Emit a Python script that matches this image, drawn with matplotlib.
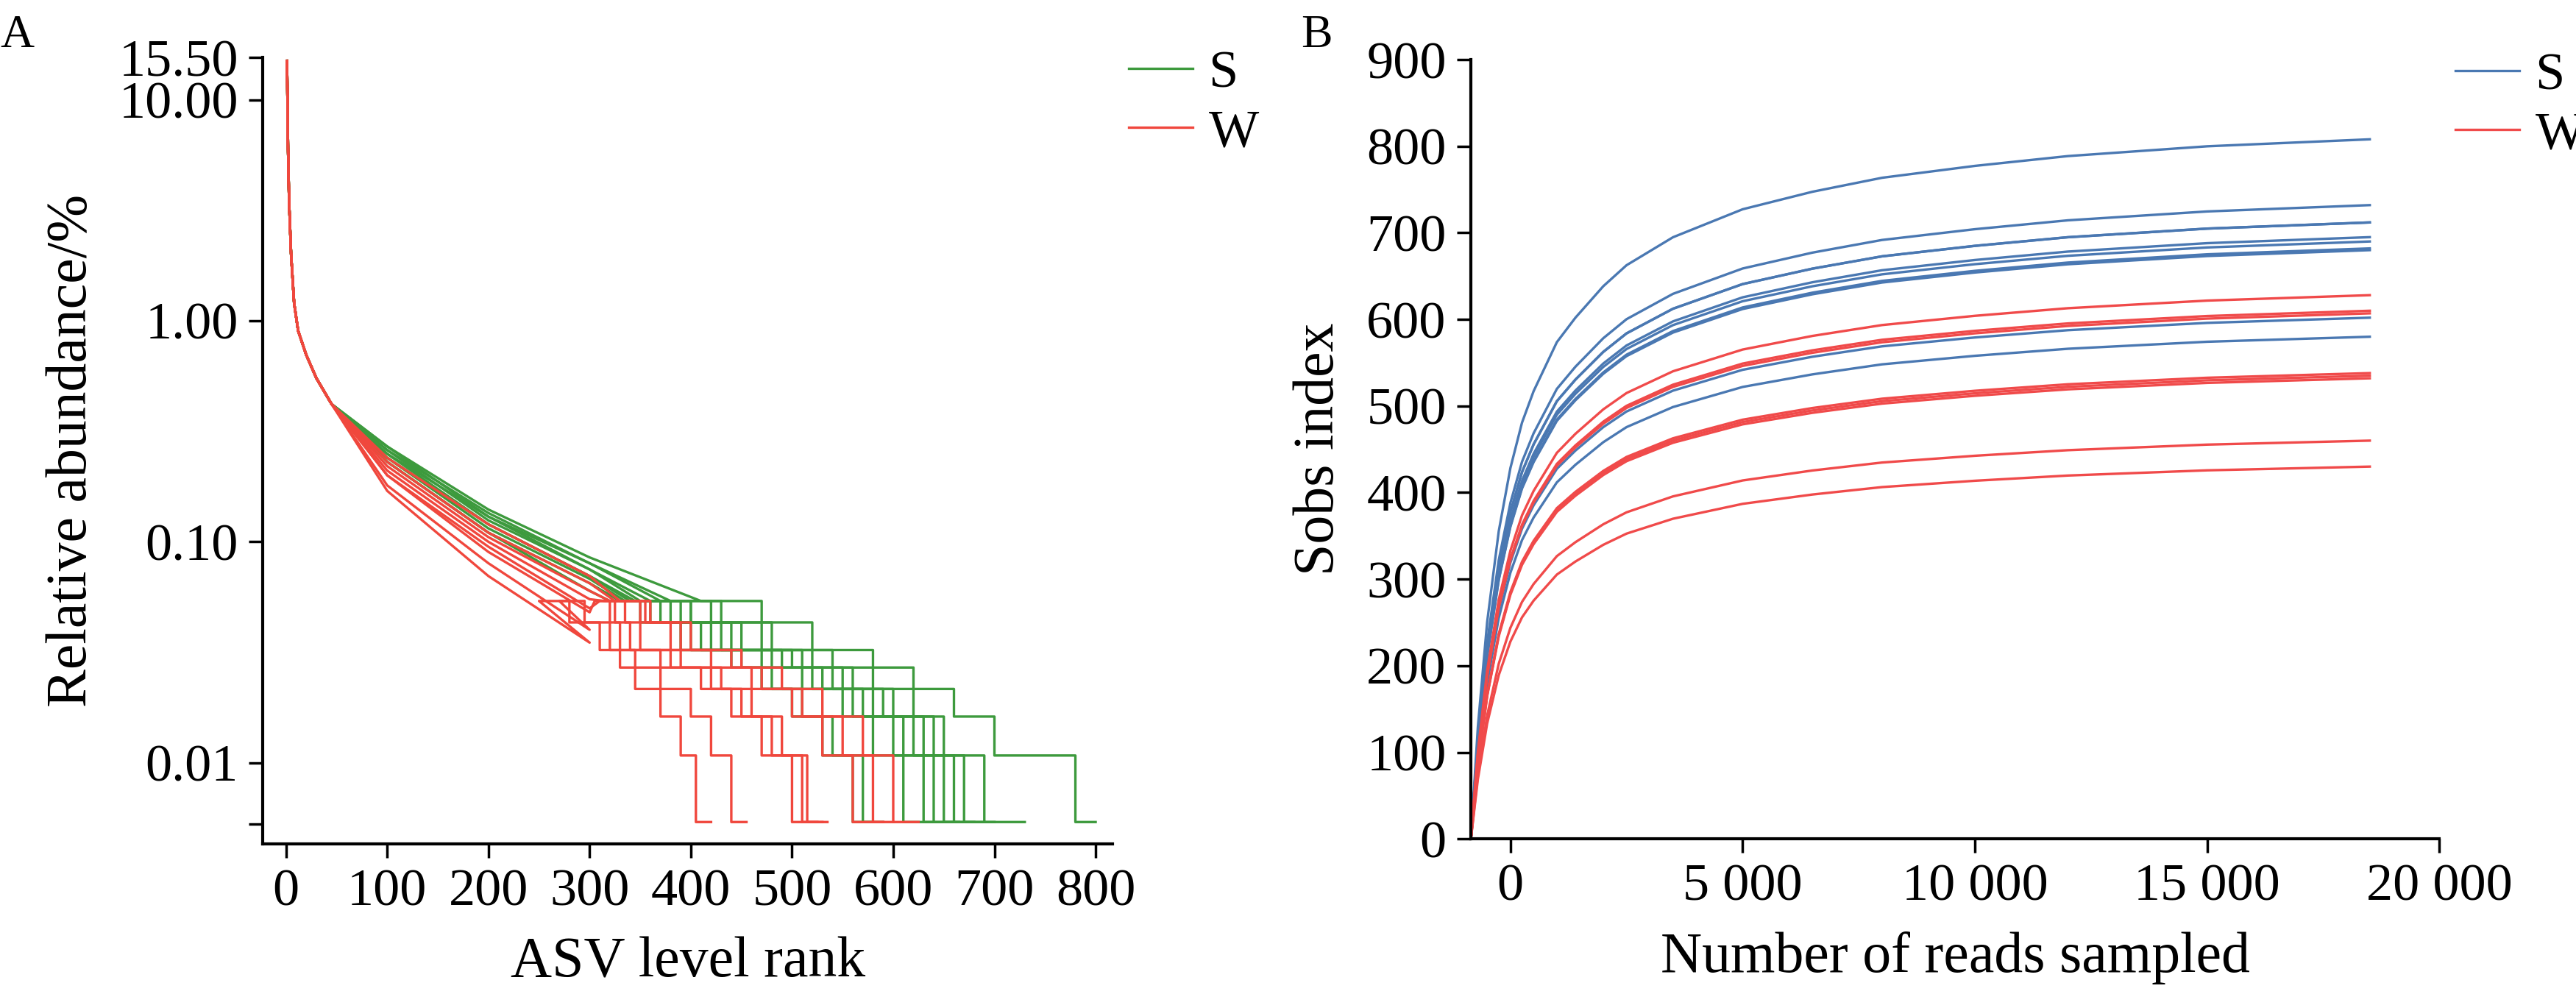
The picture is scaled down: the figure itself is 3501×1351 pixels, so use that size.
import numpy as np
import matplotlib
matplotlib.use("Agg")
import matplotlib.pyplot as plt

plt.rcParams['font.family'] = ['Liberation Serif', 'DejaVu Serif']

# ---------------- Panel A data ----------------
head_ranks = [1, 2, 3, 5, 8, 12, 20, 30, 45]
head_vals = [15.0, 6.0, 3.5, 2.0, 1.2, 0.9, 0.7, 0.55, 0.42]
mid_ranks = [100, 200, 300]
read_unit = 0.0054  # relative abundance of one read (%)
tail_reads = [10, 8, 6, 5, 4, 3, 2, 1]
# mid values at ranks 100, 200, 300
green_mid = [[0.27, 0.14, 0.085], [0.26, 0.135, 0.08], [0.27, 0.13, 0.08], [0.25, 0.13, 0.075],
             [0.26, 0.125, 0.075], [0.25, 0.12, 0.07], [0.24, 0.12, 0.07], [0.24, 0.115, 0.068],
             [0.23, 0.11, 0.065], [0.23, 0.11, 0.06]]
# start ranks of the 10,8,6,5,4,3,2,1-read levels, then the last rank
green_tail = [[410, 470, 520, 580, 620, 660, 700, 780, 800],
              [380, 430, 480, 540, 580, 620, 650, 690, 730],
              [370, 420, 470, 520, 560, 600, 640, 670, 700],
              [360, 400, 450, 510, 550, 590, 630, 660, 690],
              [350, 400, 440, 500, 540, 580, 620, 650, 680],
              [345, 390, 430, 490, 530, 570, 610, 640, 665],
              [340, 380, 420, 480, 520, 560, 600, 630, 660],
              [335, 370, 410, 470, 510, 550, 580, 610, 640],
              [330, 360, 400, 450, 480, 510, 540, 570, 590],
              [320, 350, 390, 440, 470, 500, 530, 560, 580]]
red_mid = [[0.24, 0.12, 0.07], [0.23, 0.11, 0.065], [0.22, 0.105, 0.06], [0.21, 0.10, 0.055],
           [0.20, 0.095, 0.05], [0.20, 0.09, 0.048], [0.18, 0.08, 0.04], [0.17, 0.07, 0.035]]
red_tail = [[330, 360, 400, 450, 490, 530, 570, 600, 625],
            [325, 355, 390, 440, 470, 510, 550, 580, 600],
            [320, 350, 380, 420, 460, 500, 530, 560, 590],
            [315, 335, 350, 390, 430, 460, 490, 515, 535],
            [310, 325, 340, 380, 420, 450, 480, 510, 530],
            [305, 320, 330, 370, 410, 440, 470, 500, 525],
            [270, 295, 320, 345, 370, 400, 420, 440, 455],
            [250, 280, 310, 330, 345, 370, 390, 405, 420]]

# ---------------- Panel B data ----------------
reads_x = [-850, -700, -500, -250, 0, 250, 500, 1000, 1400, 2000, 2500, 3500, 5000, 6500, 8000,
           10000, 12000, 15000, 18500]
shape = [0.0, 0.16, 0.31, 0.44, 0.53, 0.595, 0.64, 0.71, 0.745, 0.79, 0.82, 0.86, 0.90, 0.925,
         0.945, 0.962, 0.976, 0.99, 1.0]
blue_final = [808, 732, 712, 712, 695, 690, 682, 680, 602, 580]
red_final = [628, 610, 607, 538, 535, 532, 460, 430]

GREEN = '#3d9a3d'
REDA = '#f0473d'
BLUE = '#4a78b2'
REDB = '#f04a4a'

fig = plt.figure(figsize=(35.01, 13.51), dpi=100)
axA = fig.add_axes([0.102, 0.151, 0.330, 0.791])
axB = fig.add_axes([0.571, 0.156, 0.376, 0.784])

def draw_a(mid, tail, color):
    xs = head_ranks + mid_ranks
    ys = head_vals + mid
    for i, n in enumerate(tail_reads):
        lvl = n * read_unit
        xs += [tail[i], tail[i + 1]]
        ys += [lvl, lvl]
    axA.plot(xs, ys, color=color, lw=2.4)

for m, t in zip(green_mid, green_tail):
    draw_a(m, t, GREEN)
for m, t in zip(red_mid, red_tail):
    draw_a(m, t, REDA)

axA.set_yscale('log')
axA.set_xlim(-23, 817)
axA.set_ylim(0.0043, 15.5)
axA.set_yticks([0.0053, 0.01, 0.1, 1, 10, 15.5])
axA.set_yticklabels(['', '0.01', '0.10', '1.00', '10.00', '15.50'])
axA.minorticks_off()
axA.set_xticks(range(0, 801, 100))
axA.set_xlabel('ASV level rank', fontsize=56, labelpad=20)
axA.set_ylabel('Relative abundance/%', fontsize=56, labelpad=20)
axA.plot([], [], color=GREEN, lw=2.4, label='S')
axA.plot([], [], color=REDA, lw=2.4, label='W')

for f in blue_final:
    axB.plot(reads_x, [f * s for s in shape], color=BLUE, lw=2.4)
for f in red_final:
    axB.plot(reads_x, [f * s for s in shape], color=REDB, lw=2.4)
axB.set_xlim(-850, 20000)
axB.set_ylim(0, 900)
axB.set_xticks([0, 5000, 10000, 15000, 20000])
axB.set_xticklabels(['0', '5 000', '10 000', '15 000', '20 000'])
axB.set_yticks(range(0, 901, 100))
axB.set_xlabel('Number of reads sampled', fontsize=56, labelpad=20)
axB.set_ylabel('Sobs index', fontsize=56, labelpad=20)
axB.plot([], [], color=BLUE, lw=2.4, label='S')
axB.plot([], [], color=REDB, lw=2.4, label='W')

for ax in (axA, axB):
    for s in ('top', 'right'):
        ax.spines[s].set_visible(False)
    for s in ('left', 'bottom'):
        ax.spines[s].set_linewidth(3)
    ax.tick_params(direction='out', length=14, width=2.5, labelsize=52, pad=10)
    ax.legend(loc='upper left', bbox_to_anchor=(1.0, 1.03), frameon=False, fontsize=52,
              handlelength=1.2, handletextpad=0.3, labelspacing=0.2,
              borderaxespad=0.2, borderpad=0.1)

fig.text(0.0, 0.985, 'A', fontsize=46, va='top')
fig.text(0.505, 0.985, 'B', fontsize=46, va='top')
fig.savefig('out.png', dpi=100, facecolor='white')
